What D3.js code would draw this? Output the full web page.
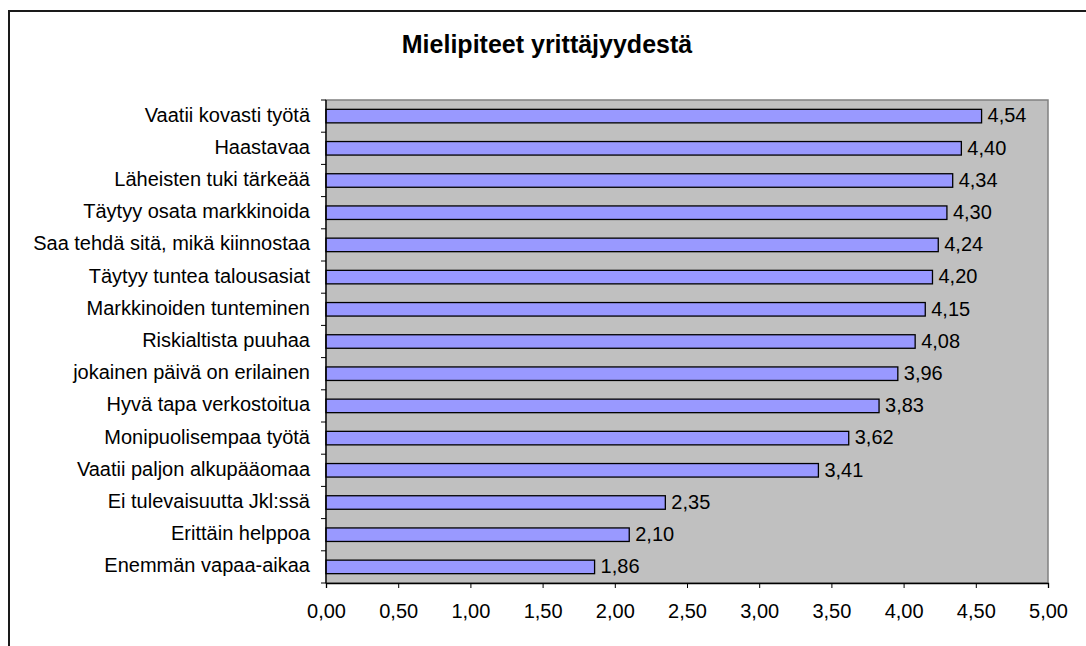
<!DOCTYPE html>
<html>
<head>
<meta charset="utf-8">
<script src="https://cdn.jsdelivr.net/npm/d3@7"></script>
<style>
  body { margin: 0; background: #fff; }
  text { font-family: "Liberation Sans", Arial, sans-serif; fill: #000; }
</style>
</head>
<body>
<svg id="chart" width="1086" height="646"></svg>
<script>
// data
var title = "Mielipiteet yrittäjyydestä";
var categories = [
  "Vaatii kovasti työtä", "Haastavaa", "Läheisten tuki tärkeää",
  "Täytyy osata markkinoida", "Saa tehdä sitä, mikä kiinnostaa",
  "Täytyy tuntea talousasiat", "Markkinoiden tunteminen", "Riskialtista puuhaa",
  "jokainen päivä on erilainen", "Hyvä tapa verkostoitua", "Monipuolisempaa työtä",
  "Vaatii paljon alkupääomaa", "Ei tulevaisuutta Jkl:ssä", "Erittäin helppoa",
  "Enemmän vapaa-aikaa"
];
var values = [4.54, 4.40, 4.34, 4.30, 4.24, 4.20, 4.15, 4.08, 3.96, 3.83, 3.62, 3.41, 2.35, 2.10, 1.86];
var xTicks = [0, 0.5, 1, 1.5, 2, 2.5, 3, 3.5, 4, 4.5, 5];

var svg = d3.select("#chart");
var fmt = function(d) { return d3.format(".2f")(d).replace(".", ","); };

// outer chart border (runs off the right and bottom)
svg.append("rect")
  .attr("x", 9).attr("y", 11)
  .attr("width", 1200).attr("height", 800)
  .attr("fill", "none").attr("stroke", "#1a1a1a").attr("stroke-width", 2);

svg.append("text")
  .attr("x", 547).attr("y", 53)
  .attr("text-anchor", "middle")
  .style("font-size", "25px").style("font-weight", "bold")
  .text(title);

var pLeft = 326, pRight = 1048, pTop = 100, pBottom = 583;

var x = d3.scaleLinear().domain([0, 5]).range([pLeft, pRight]);
var y = d3.scaleBand().domain(categories).range([pTop, pBottom]).paddingInner(0.58).paddingOuter(0.29);

svg.append("rect")
  .attr("x", pLeft).attr("y", pTop)
  .attr("width", pRight - pLeft).attr("height", pBottom - pTop)
  .attr("fill", "#c0c0c0").attr("stroke", "#808080").attr("stroke-width", 1.5);

svg.selectAll("rect.bar")
  .data(values)
  .enter().append("rect")
  .attr("class", "bar")
  .attr("x", x(0))
  .attr("y", function(d, i) { return y(categories[i]); })
  .attr("width", function(d) { return x(d) - x(0); })
  .attr("height", y.bandwidth())
  .attr("fill", "#9999ff").attr("stroke", "#000").attr("stroke-width", 1.3);

svg.selectAll("text.val")
  .data(values)
  .enter().append("text")
  .attr("class", "val")
  .attr("x", function(d) { return x(d) + 6; })
  .attr("y", function(d, i) { return y(categories[i]) + y.bandwidth() / 2; })
  .attr("dy", "0.31em")
  .style("font-size", "20px")
  .text(fmt);

// category axis: ticks at band boundaries
var bounds = d3.range(categories.length + 1).map(function(i) { return pTop + i * (pBottom - pTop) / categories.length; });
svg.append("line")
  .attr("x1", pLeft).attr("x2", pLeft).attr("y1", pTop).attr("y2", pBottom)
  .attr("stroke", "#000").attr("stroke-width", 1.3);
svg.selectAll("line.ytick")
  .data(bounds)
  .enter().append("line")
  .attr("x1", pLeft - 5).attr("x2", pLeft)
  .attr("y1", function(d) { return d; }).attr("y2", function(d) { return d; })
  .attr("stroke", "#000");

svg.selectAll("text.cat")
  .data(categories)
  .enter().append("text")
  .attr("class", "cat")
  .attr("x", 310)
  .attr("y", function(d) { return y(d) + y.bandwidth() / 2; })
  .attr("dy", "0.27em")
  .attr("text-anchor", "end")
  .style("font-size", "20px")
  .text(function(d) { return d; });

// value axis
var xAxis = svg.append("g")
  .attr("transform", "translate(0," + pBottom + ")")
  .call(d3.axisBottom(x).tickValues(xTicks).tickSize(5).tickPadding(16).tickFormat(fmt));
xAxis.select(".domain").attr("stroke", "#000").attr("stroke-width", 1.3);
xAxis.selectAll("text").style("font-size", "20px").attr("fill", "#000");
</script>
</body>
</html>
